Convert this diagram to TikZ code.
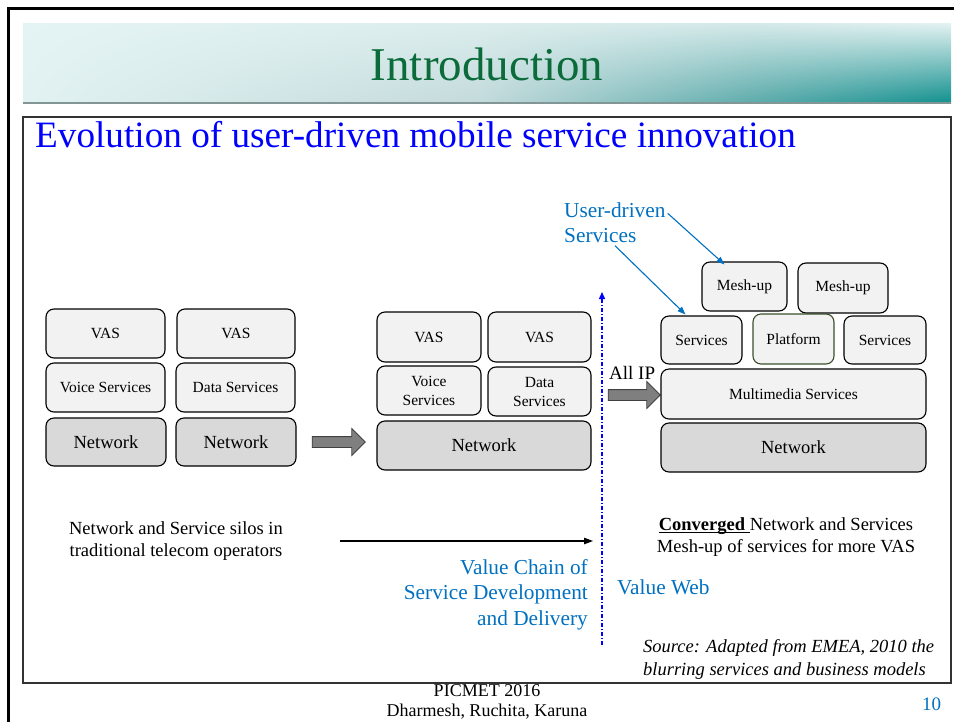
\documentclass[tikz,border=0pt]{standalone}
\usepackage{fontspec}
\setmainfont{Liberation Serif}
\usetikzlibrary{shapes.arrows, arrows.meta, calc, shadings}

\definecolor{boxfill}{HTML}{F2F2F2}
\definecolor{netfill}{HTML}{D9D9D9}
\definecolor{arrowfill}{HTML}{7F7F7F}
\definecolor{titlegreen}{HTML}{0B6B3A}
\definecolor{labelblue}{HTML}{0070C0}
\definecolor{headblue}{HTML}{0000FF}
\definecolor{platedge}{HTML}{3B4F2C}
\definecolor{bandA}{RGB}{228,244,244}
\definecolor{bandB}{RGB}{226,242,242}
\definecolor{bandC}{RGB}{220,237,237}
\definecolor{bandD}{RGB}{195,218,219}
\definecolor{bandE}{RGB}{213,233,233}
\definecolor{bandF}{RGB}{95,172,172}
\definecolor{bandG}{RGB}{228,242,242}
\definecolor{bandH}{RGB}{17,144,142}
\definecolor{bandline}{RGB}{130,150,150}

\newcommand{\fs}[2]{\fontsize{#1}{#2}\selectfont}
% underline drawn close to the baseline
\newcommand{\ulword}[1]{\setbox0\hbox{#1}\rlap{\rule[-2.6pt]{\wd0}{0.9pt}}\box0}

\begin{document}
\begin{tikzpicture}[x=1pt, y=-1pt,
  layer/.style={draw=black, fill=boxfill, rounded corners=8pt, line width=1.1pt,
    inner sep=0pt, align=center, font=\fs{15.5}{19}},
  netlayer/.style={layer, fill=netfill, font=\fs{18.5}{22}},
  blockarr/.style={single arrow, draw=black!75, fill=arrowfill, line width=0.8pt,
    inner xsep=0pt, inner ysep=5pt, single arrow head extend=8pt},
  bluelabel/.style={text=labelblue, font=\fs{21.3}{25.5}},
  plaintext/.style={font=\fs{18.5}{22}, align=center},
  userarrow/.style={draw=labelblue, line width=1.1pt, -{Triangle[length=8pt,width=6pt]}}
]
\useasboundingbox (0,0) rectangle (954,721);

% slide frame
\draw[line width=3pt, line cap=rect] (8,721) -- (8,8) -- (954,8);

% header band
\shade[upper left=bandA, upper right=bandC, lower left=bandB, lower right=bandD]
  (23,23) rectangle (480,103);
\shade[upper left=bandC, upper right=bandE, lower left=bandD, lower right=bandF]
  (480,23) rectangle (750,103);
\shade[upper left=bandE, upper right=bandG, lower left=bandF, lower right=bandH]
  (750,23) rectangle (951,103);
\draw[line width=1.5pt, draw=bandline] (23,103) -- (951,103);
\node[anchor=base, text=titlegreen, font=\fs{47}{50}] (title) at (487,80) {Introduction};

% content frame
\draw[line width=1.6pt, draw=black!80] (23,117) rectangle (951,683);
\node[anchor=base west, text=headblue, font=\fs{37.2}{40}, inner sep=0pt] (subtitle) at (35,147)
  {Evolution of user-driven mobile service innovation};

% stage 1: separate silos
\node[layer, minimum width=119pt, minimum height=49pt] (vasA) at (105.5,333.5) {VAS};
\node[layer, minimum width=118pt, minimum height=49pt] (vasB) at (236,333.5) {VAS};
\node[layer, minimum width=119pt, minimum height=49pt] (voiceA) at (105.5,387.5) {Voice Services};
\node[layer, minimum width=119pt, minimum height=49pt] (dataA) at (235.5,387.5) {Data Services};
\node[netlayer, minimum width=120pt, minimum height=48pt] (netA) at (106,442) {Network};
\node[netlayer, minimum width=120pt, minimum height=48pt] (netB) at (236,442) {Network};

\node[blockarr, minimum height=53pt] (arrA) at (336,442) {};

% stage 2: shared network
\node[layer, minimum width=104pt, minimum height=50pt] (vasC) at (429,337) {VAS};
\node[layer, minimum width=103pt, minimum height=50pt] (vasD) at (539.5,337) {VAS};
\node[layer, minimum width=104pt, minimum height=49pt] (voiceC) at (429,390.5) {Voice\\Services};
\node[layer, minimum width=103pt, minimum height=49pt] (dataC) at (539.5,391.5) {Data\\Services};
\node[netlayer, minimum width=214pt, minimum height=49pt] (netC) at (484,445.5) {Network};

% value chain / value web divider
\coordinate (divbot) at (602,645);
\coordinate (divtop) at (602,292);
\draw[draw=headblue, line width=1.3pt, dash pattern=on 4pt off 2pt on 1pt off 2pt,
      -{Triangle[length=7pt,width=6pt]}] (divbot) -- (divtop);

\node[anchor=base west, font=\fs{19}{22}, inner sep=0pt] (allip) at (609,379) {All IP};
\node[blockarr, minimum height=52pt] (arrB) at (631.5,395) {};

% stage 3: converged platform
\node[layer, minimum width=85pt, minimum height=49pt] (meshA) at (744.5,286.5) {Mesh-up};
\node[layer, minimum width=90pt, minimum height=50pt] (meshB) at (843,288) {Mesh-up};
\node[layer, minimum width=81pt, minimum height=48pt] (servA) at (701.5,340) {Services};
\node[layer, draw=platedge, minimum width=81pt, minimum height=50pt] (plat) at (793.5,339) {Platform};
\node[layer, minimum width=82pt, minimum height=48pt] (servB) at (885,340) {Services};
\node[layer, minimum width=265pt, minimum height=50pt] (mm) at (793.5,394) {Multimedia Services};
\node[netlayer, minimum width=265pt, minimum height=49pt] (netD) at (793.5,447.5) {Network};

% user-driven services callout
\node[bluelabel, anchor=west, align=left, font=\fs{21.3}{25}, inner sep=0pt] (userdriven) at (564,222.5)
  {User-driven\\Services};
\draw[userarrow] ($(userdriven.north east)+(2,11)$) -- ($(meshA.north west)+(23,3)$);
\draw[userarrow] ($(userdriven.south west)+(51,3)$) -- ($(servA.north west)+(25,-1)$);

% captions
\node[plaintext] (silos) at (176,541) {Network and Service silos in\\traditional telecom operators};
\coordinate (chainstart) at (340,541);
\coordinate (chainend) at (593,541);
\draw[line width=1.1pt, -{Triangle[length=9pt,width=6.5pt]}] (chainstart) -- (chainend);
\node[bluelabel, anchor=east, align=right, inner sep=0pt] (chain) at (588,594.5)
  {Value Chain of\\Service Development\\and Delivery};
\node[bluelabel, anchor=west, inner sep=0pt] (web) at (617,587) {Value Web};
\node[plaintext] (converged) at (786,537)
  {\ulword{\textbf{Converged}\ }Network and Services\\Mesh-up of services for more VAS};
\node[anchor=west, align=left, font=\itshape\fs{18.5}{23}, inner sep=0pt] (source) at (643,659.5)
  {Source: Adapted from EMEA, 2010 the\\blurring services and business models};

% footer
\node[align=center, font=\fs{18}{20}, inner sep=0pt] (footer) at (487,701.5) {PICMET 2016\\Dharmesh, Ruchita, Karuna};
\node[text=labelblue, font=\fs{19}{22}] (pageno) at (931.5,704) {10};
\end{tikzpicture}
\end{document}
